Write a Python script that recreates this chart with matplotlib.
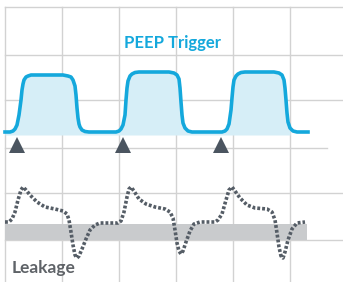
import matplotlib
matplotlib.use("Agg")
import matplotlib.pyplot as plt

# grid positions (chart units = pixels of the original, y grows downwards)
grid_x = [5, 62, 119, 176, 233, 290]
grid_y = [7, 55, 100, 193, 240]
trigger_line_y = 148

# PEEP trigger waveform
peep_x = [5, 10, 13, 15, 17, 19, 21, 22, 23, 24, 26, 28, 31, 35, 63, 68, 71, 73, 75, 76, 77, 78, 79, 80, 82, 85, 89,
          116, 119, 121, 123, 125, 126, 127, 128, 130, 132, 135, 139, 169, 174, 177, 179, 180, 181, 182, 183, 185, 188, 192,
          222, 225, 227, 229, 231, 232, 233, 234, 236, 238, 241, 245, 274, 279, 282, 284, 285, 286, 287, 288, 290, 293, 297, 308]
peep_y = [132, 132, 131, 129, 125, 115, 100, 90, 84, 80, 77, 76, 75, 75, 75, 76, 77, 80, 86, 95, 108, 118, 124, 127, 130, 131.5, 132,
          132, 131, 129, 125, 115, 100, 88, 81, 76, 74, 72.5, 72, 72, 73, 75, 79, 88, 102, 115, 123, 128, 131, 132,
          132, 131, 129, 124, 110, 98, 87, 80, 76, 74, 72.5, 72, 72, 73, 75, 80, 88, 100, 113, 122, 128, 131, 132, 132]
fill_base = 135
fill_end = 291

# trigger markers
trig_x = [17, 123, 221]
trig_y = [145, 145, 145]

# leakage waveform (dotted)
leak_x = [5, 9, 12, 15, 18, 21, 23, 26, 30, 37, 45, 55, 63, 67, 69, 71, 73, 75, 77, 79, 82, 86, 90, 95, 100, 118,
          121, 124, 127, 129, 131, 134, 139, 146, 155, 165, 170, 173, 175, 177, 179, 181, 183, 186, 190, 194, 200, 215,
          218, 222, 226, 229, 232, 235, 240, 247, 255, 267, 272, 275, 277, 279, 281, 283, 285, 288, 292, 297, 305]
leak_y = [222, 222, 219, 212, 200, 190, 187, 190, 195, 202, 207, 209, 211, 214, 220, 232, 245, 255, 258, 256, 249, 239, 230, 225, 223, 223,
          221, 212, 197, 189, 187, 191, 199, 204, 207, 209, 212, 218, 230, 243, 251, 254, 251, 242, 231, 224, 222, 222,
          220, 214, 200, 190, 187, 191, 198, 205, 208, 209, 212, 220, 233, 247, 256, 258, 252, 240, 229, 223, 222]
band_x = [5, 307]
band_y = [224, 240]

blue = "#14a8dc"
grid_c = "#d2d2d2"

fig = plt.figure(figsize=(3.43, 2.82), dpi=100)
ax = fig.add_axes([0, 0, 1, 1])
ax.set_xlim(0, 343)
ax.set_ylim(282, 0)
ax.axis("off")

for gx in grid_x:
    ax.plot([gx, gx], [grid_y[0], 282], color=grid_c, lw=1, zorder=1)
for gy in grid_y:
    ax.plot([grid_x[0], 343], [gy, gy], color=grid_c, lw=1, zorder=1)
ax.plot([grid_x[0], 327], [trigger_line_y, trigger_line_y], color=grid_c, lw=1, zorder=1)

# pulses
fx = [x for x in peep_x if x <= fill_end]
fy = peep_y[:len(fx)]
ax.fill_between(fx, fy, fill_base, color="#d6eef7", lw=0, zorder=2)
ax.plot(peep_x, peep_y, color=blue, lw=2.6, solid_joinstyle="round", zorder=3)
ax.plot(trig_x, trig_y, "^", color="#4b5560", ms=11, mew=0, zorder=4)
ax.text(172, 43, "PEEP Trigger", color=blue, fontsize=12, fontweight="bold",
        family="Lato", ha="center", va="center")

# leakage
ax.fill_between(band_x, band_y[0], band_y[1], color="#c9cbcd", lw=0, zorder=2)
ax.plot(leak_x, leak_y, color="#555d66", lw=2.6, linestyle=(0, (0.8, 0.55)), zorder=3)
ax.text(12, 268, "Leakage", color="#5f6368", fontsize=12.5, fontweight="bold",
        family="Lato", ha="left", va="center")

fig.savefig("out.png", dpi=100)
